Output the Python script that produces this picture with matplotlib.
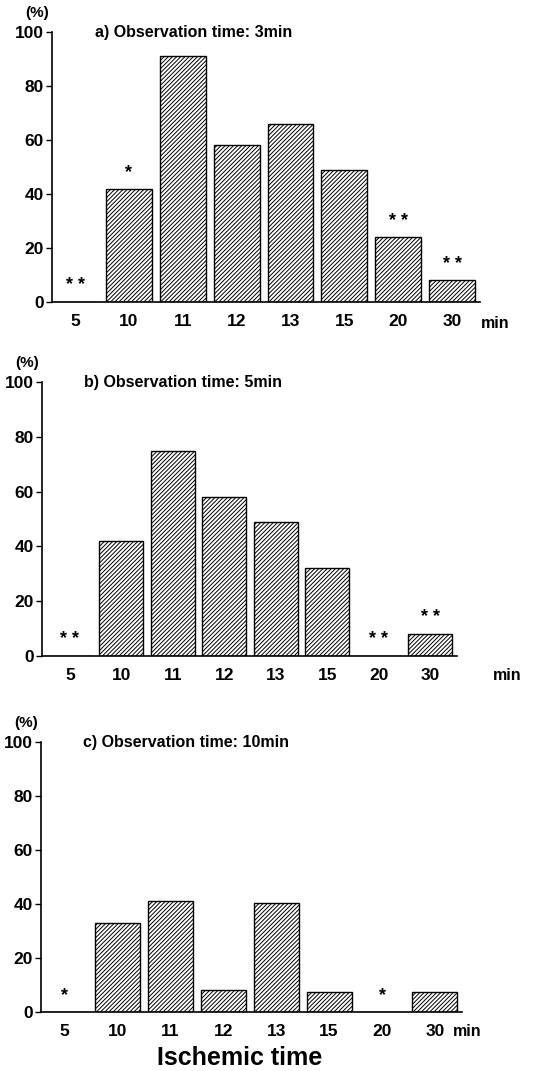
import matplotlib
matplotlib.use("Agg")
import matplotlib.pyplot as plt

plt.rcParams['font.family'] = ['Liberation Sans', 'DejaVu Sans']
plt.rcParams['font.weight'] = 'bold'
plt.rcParams['hatch.color'] = '#3a3a3a'
plt.rcParams['hatch.linewidth'] = 0.7

# ischemic time categories
categories = ['5', '10', '11', '12', '13', '15', '20', '30']
yticks = [0, 20, 40, 60, 80, 100]

# percent values for each observation time
values_a = [0, 42, 91, 58, 66, 49, 24, 8]
values_b = [0, 42, 75, 58, 49, 32, 0, 8]
values_c = [0, 33, 41, 8, 40.5, 7.5, 0, 7.5]

# significance marks
stars_a = ['**', '*', '', '', '', '', '**', '**']
stars_b = ['**', '', '', '', '', '', '**', '**']
stars_c = ['*', '', '', '', '', '', '*', '']

titles = ['a) Observation time: 3min',
          'b) Observation time: 5min',
          'c) Observation time: 10min']

W, H = 560, 1071
fig = plt.figure(figsize=(W / 100, H / 100), dpi=100)


def px_box(x0, y_top, x1, y_bot):
    return [x0 / W, 1 - y_bot / H, (x1 - x0) / W, (y_bot - y_top) / H]


# axes boxes in pixels: left, y of 100, right, y of 0
boxes = [(52, 32, 480, 302), (42, 382, 457, 656), (41, 742, 462, 1012)]
xlims = [(-0.43, 7.52), (-0.54, 7.52), (-0.44, 7.51)]
panels = [(values_a, stars_a), (values_b, stars_b), (values_c, stars_c)]
min_pos = [(495, 323), (507, 675), (467, 1031)]

for i, ((vals, stars), box) in enumerate(zip(panels, boxes)):
    ax = fig.add_axes(px_box(*box))
    x = range(len(categories))
    ax.bar(x, vals, width=0.85, color='white', edgecolor='black',
           linewidth=1.0, hatch='////////')
    for xi, v, s in zip(x, vals, stars):
        if s:
            ax.text(xi, v + 6, ' '.join(s), ha='center', va='center',
                    fontsize=13)
    ax.set_xlim(*xlims[i])
    ax.set_ylim(0, 100)
    ax.set_yticks(yticks)
    ax.set_xticks(list(x))
    ax.set_xticklabels(categories)
    ax.tick_params(axis='x', length=0, pad=9, labelsize=12.5)
    ax.tick_params(axis='y', length=4, width=1, pad=2, labelsize=12.5)
    for s in ['top', 'right']:
        ax.spines[s].set_visible(False)
    for s in ['left', 'bottom']:
        ax.spines[s].set_linewidth(1.2)
    ax.text(0.1, 1.0, titles[i], transform=ax.transAxes, fontsize=11.5,
            ha='left', va='center')
    fig.text((box[0] - 15) / W, 1 - (box[1] - 19) / H, '(%)',
             ha='center', va='center', fontsize=11)
    fig.text(min_pos[i][0] / W, 1 - min_pos[i][1] / H, 'min',
             ha='center', va='center', fontsize=11.5)

fig.text(240 / W, 1 - 1058 / H, 'Ischemic time', ha='center', va='center',
         fontsize=18)

fig.savefig('out.png', dpi=100)
